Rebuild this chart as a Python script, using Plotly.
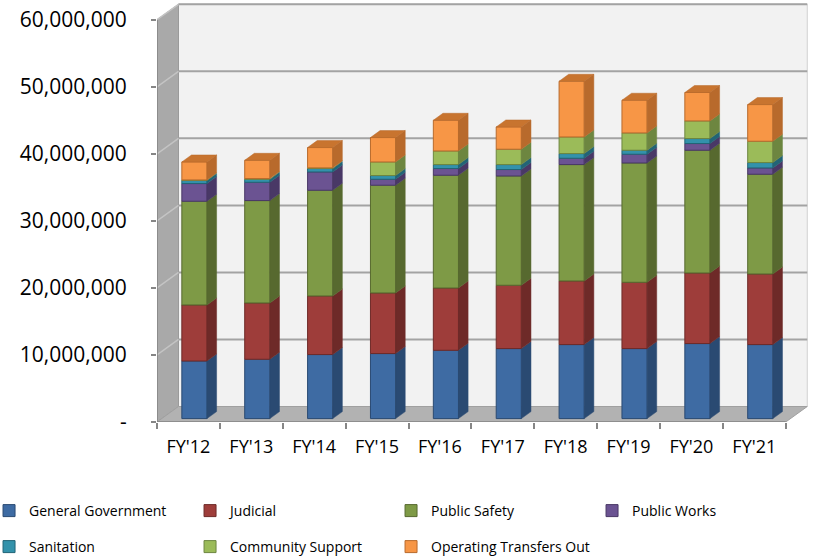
import plotly.graph_objects as go

categories = ["FY'12", "FY'13", "FY'14", "FY'15", "FY'16", "FY'17", "FY'18", "FY'19", "FY'20", "FY'21"]
series_names = ["General Government", "Judicial", "Public Safety", "Public Works",
                "Sanitation", "Community Support", "Operating Transfers Out"]
general_government = [8590000, 8850000, 9550000, 9700000, 10190000, 10440000, 11040000, 10440000, 11190000, 11040000]
judicial = [8360000, 8400000, 8740000, 9040000, 9290000, 9450000, 9490000, 9890000, 10530000, 10530000]
public_safety = [15470000, 15270000, 15770000, 16070000, 16820000, 16300000, 17360000, 17800000, 18310000, 14880000]
public_works = [2640000, 2730000, 2730000, 890000, 1000000, 960000, 940000, 1300000, 1000000, 940000]
sanitation = [450000, 450000, 510000, 550000, 590000, 740000, 700000, 600000, 740000, 800000]
community_support = [90000, 100000, 100000, 2030000, 2030000, 2290000, 2480000, 2580000, 2630000, 3180000]
operating_transfers_out = [2680000, 2730000, 3030000, 3640000, 4580000, 3320000, 8310000, 4880000, 4240000, 5470000]
y_tick_values = [0, 10000000, 20000000, 30000000, 40000000, 50000000, 60000000]
y_tick_labels = ["-", "10,000,000", "20,000,000", "30,000,000", "40,000,000", "50,000,000", "60,000,000"]

series_values = [general_government, judicial, public_safety, public_works,
                 sanitation, community_support, operating_transfers_out]

# styles
front_colors = ["#3e6ba3", "#9e3d3a", "#7e9a46", "#6b5392", "#3392ab", "#9bbb59", "#f79646"]
side_colors = ["#2a4a72", "#6e2a28", "#57692f", "#493866", "#226476", "#6d8640", "#b86a2c"]
top_color = "#c8742f"
legend_of = ["legend", "legend", "legend", "legend", "legend2", "legend2", "legend2"]
FONT = "Open Sans"

# pseudo-3D geometry (presentation)
BAR_OFFSET = 0.095
BAR_W = 0.40
DEPTH_X = 0.153
DEPTH_Y = 1.04e6
LIFT = 0.51e6
WALL_X = 0.342
WALL_Y = 2.31e6
Y_TOP = y_tick_values[-1]

n = len(categories)
xpos = list(range(n))

fig = go.Figure()

# cumulative bottoms
bottoms = [[0.0] * n]
for vals in series_values[:-1]:
    bottoms.append([b + v for b, v in zip(bottoms[-1], vals)])

# front faces
for s, (name, vals) in enumerate(zip(series_names, series_values)):
    fig.add_trace(go.Bar(
        x=[i + BAR_OFFSET for i in xpos], y=vals,
        base=[b + LIFT for b in bottoms[s]],
        width=BAR_W, name=name, legend=legend_of[s],
        marker=dict(color=front_colors[s], line=dict(color=side_colors[s], width=1)),
        hoverinfo="name+y",
    ))

# side faces
for s, vals in enumerate(series_values):
    xs, ys = [], []
    for i in xpos:
        xr = i + BAR_OFFSET + BAR_W / 2
        b = bottoms[s][i] + LIFT
        t = b + vals[i]
        xs += [xr, xr + DEPTH_X, xr + DEPTH_X, xr, xr, None]
        ys += [b, b + DEPTH_Y, t + DEPTH_Y, t, b, None]
    fig.add_trace(go.Scatter(x=xs, y=ys, mode="lines", fill="toself",
                             fillcolor=side_colors[s], line=dict(color=side_colors[s], width=0.5),
                             showlegend=False, hoverinfo="skip"))

# top caps
xs, ys = [], []
for i in xpos:
    xl = i + BAR_OFFSET - BAR_W / 2
    xr = i + BAR_OFFSET + BAR_W / 2
    t = bottoms[-1][i] + series_values[-1][i] + LIFT
    xs += [xl, xl + DEPTH_X, xr + DEPTH_X, xr, xl, None]
    ys += [t, t + DEPTH_Y, t + DEPTH_Y, t, t, None]
fig.add_trace(go.Scatter(x=xs, y=ys, mode="lines", fill="toself", fillcolor=top_color,
                         line=dict(color="#b86a2c", width=0.5), showlegend=False, hoverinfo="skip"))

# walls, floor and gridlines
x0, x1 = -0.5, n - 0.5
shapes = []
shapes.append(dict(type="path", xref="x", yref="y", layer="below",
                   path=f"M{x0 + WALL_X},{WALL_Y} L{x1 + WALL_X},{WALL_Y} L{x1 + WALL_X},{Y_TOP + WALL_Y} L{x0 + WALL_X},{Y_TOP + WALL_Y} Z",
                   fillcolor="#f2f2f2", line=dict(color="#d0d0d0", width=1)))
shapes.append(dict(type="path", xref="x", yref="y", layer="below",
                   path=f"M{x0},0 L{x0},{Y_TOP} L{x0 + WALL_X},{Y_TOP + WALL_Y} L{x0 + WALL_X},{WALL_Y} Z",
                   fillcolor="#a9a9a9", line=dict(color="#9a9a9a", width=1)))
shapes.append(dict(type="path", xref="x", yref="y", layer="below",
                   path=f"M{x0},0 L{x1},0 L{x1 + WALL_X},{WALL_Y} L{x0 + WALL_X},{WALL_Y} Z",
                   fillcolor="#b2b2b2", line=dict(color="#a0a0a0", width=1)))
for v in y_tick_values[1:]:
    shapes.append(dict(type="line", xref="x", yref="y", layer="below",
                       x0=x0 + WALL_X, x1=x1 + WALL_X, y0=v + WALL_Y, y1=v + WALL_Y,
                       line=dict(color="#a3a3a3", width=2)))
    shapes.append(dict(type="line", xref="x", yref="y", layer="below",
                       x0=x0, x1=x0 + WALL_X, y0=v, y1=v + WALL_Y,
                       line=dict(color="#c4c4c4", width=1.5)))
# axis lines
shapes.append(dict(type="line", xref="x", yref="y", x0=x0, x1=x1, y0=0, y1=0,
                   line=dict(color="#868686", width=1.5)))
shapes.append(dict(type="line", xref="x", yref="y", x0=x0, x1=x0, y0=0, y1=Y_TOP,
                   line=dict(color="#868686", width=1.5)))

legend_common = dict(orientation="h", xref="paper", yref="paper", x=-0.258,
                     xanchor="left", yanchor="middle", entrywidth=156, entrywidthmode="pixels",
                     font=dict(size=14, family=FONT, color="#000000"), bgcolor="rgba(0,0,0,0)",
                     itemclick=False)

fig.update_layout(
    width=814, height=557,
    margin=dict(l=157, r=6, t=3, b=135, autoexpand=False),
    paper_bgcolor="white", plot_bgcolor="white",
    barmode="overlay",
    shapes=shapes,
    font=dict(family=FONT, color="#000000"),
    xaxis=dict(range=[x0, x1 + WALL_X + 0.012], tickmode="array", tickvals=xpos, ticktext=categories,
               showgrid=False, zeroline=False, showline=False, ticks="",
               tickfont=dict(size=18, family=FONT, color="#000000"),
               ticklabelstandoff=12, automargin=False,
               minor=dict(tickmode="array", tickvals=[i - 0.5 for i in range(n + 1)],
                          ticks="outside", ticklen=6, tickcolor="#868686", tickwidth=1.5, showgrid=False)),
    yaxis=dict(range=[0, 62.5e6], tickmode="array", tickvals=y_tick_values, ticktext=y_tick_labels,
               showgrid=False, zeroline=False, showline=False,
               ticks="outside", ticklen=5, tickcolor="#868686", tickwidth=1.5,
               tickfont=dict(size=21, family=FONT, color="#000000"),
               ticklabelstandoff=20, automargin=False),
    legend=dict(legend_common, y=(422 - 511) / 419),
    legend2=dict(legend_common, y=(422 - 547) / 419),
)

fig.write_html("out.html")
